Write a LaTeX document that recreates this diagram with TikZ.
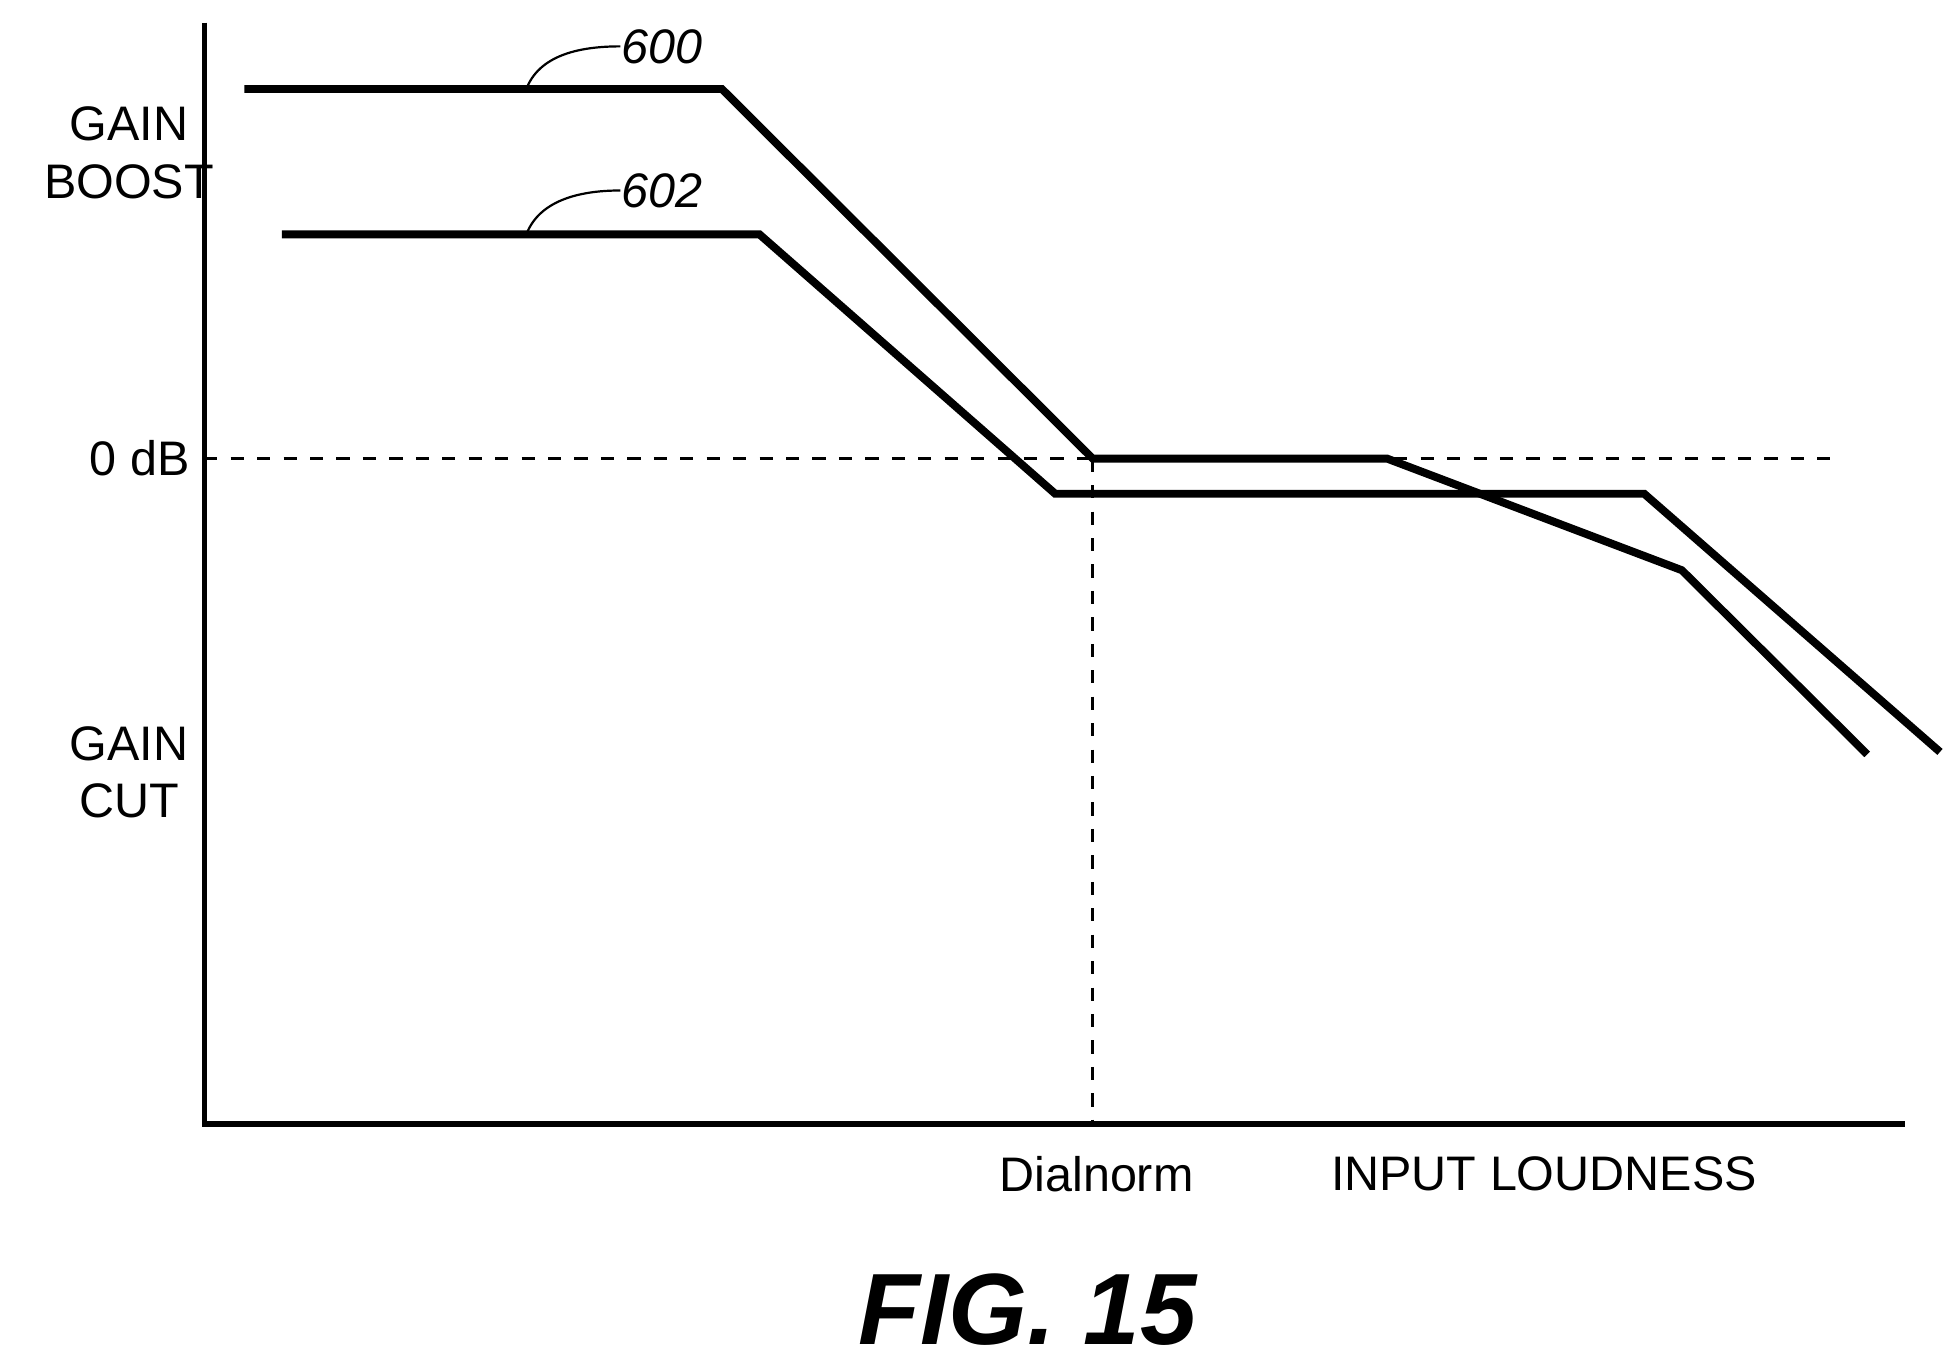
\documentclass[tikz,border=0pt]{standalone}
\usepackage{fontspec}
\setmainfont{Liberation Sans}
\usetikzlibrary{positioning}

\begin{document}
\begin{tikzpicture}[
            x=0.01cm, y=-0.01cm,
            lbl/.style={font=\fontsize{11}{13}\selectfont, align=center, inner sep=0pt},
            curve/.style={line width=1.8pt, line join=miter},
            guide/.style={dashed, line width=0.6pt},
            leader/.style={line width=0.5pt}
        ]
            \useasboundingbox (0,0) rectangle (1560,1088);

            % axes
            \coordinate (O) at (163,897);
            \coordinate (top) at (163,18);
            \coordinate (right) at (1520,897);
            \draw[line width=1.2pt] (top) -- (O) -- (right);

            % reference lines
            \coordinate (zl) at (163,366);
            \coordinate (zr) at (1462,366);
            \coordinate (dn) at (872,366);
            \coordinate (db) at (872,897);
            \draw[guide] (zl) -- (zr);
            \draw[guide] (dn) -- (db);

            % curves
            \draw[curve] (195,71) -- (576,71) -- (872,366) -- (1107,366) -- (1342,455) -- (1490,602);
            \draw[curve] (225,187) -- (606,187) -- (842,394) -- (1312,394) -- (1548,600);

            % reference numerals
            \node[lbl, font=\fontsize{11}{13}\selectfont\itshape, anchor=west] (n600) at (495,37) {600};
            \node[lbl, font=\fontsize{11}{13}\selectfont\itshape, anchor=west] (n602) at (495,152) {602};
            \coordinate (p600) at (420,71);
            \coordinate (p602) at (420,187);
            \draw[leader] (p600) .. controls (430,45) and (460,37) .. (n600.west);
            \draw[leader] (p602) .. controls (430,161) and (460,152) .. (n602.west);

            % axis labels
            \node[lbl] (boost) at (103,122) {GAIN\\BOOST};
            \node[lbl, anchor=east] (zero) at (152,366) {0 dB};
            \node[lbl] (cut) at (103,616) {GAIN\\CUT};
            \node[lbl] (dial) at (875,937) {Dialnorm};
            \node[lbl] (loud) at (1232,937) {INPUT LOUDNESS};

            \node[lbl, font=\fontsize{23}{27}\selectfont\bfseries\itshape] (fig) at (820,1045) {FIG. 15};
        \end{tikzpicture}
\end{document}
